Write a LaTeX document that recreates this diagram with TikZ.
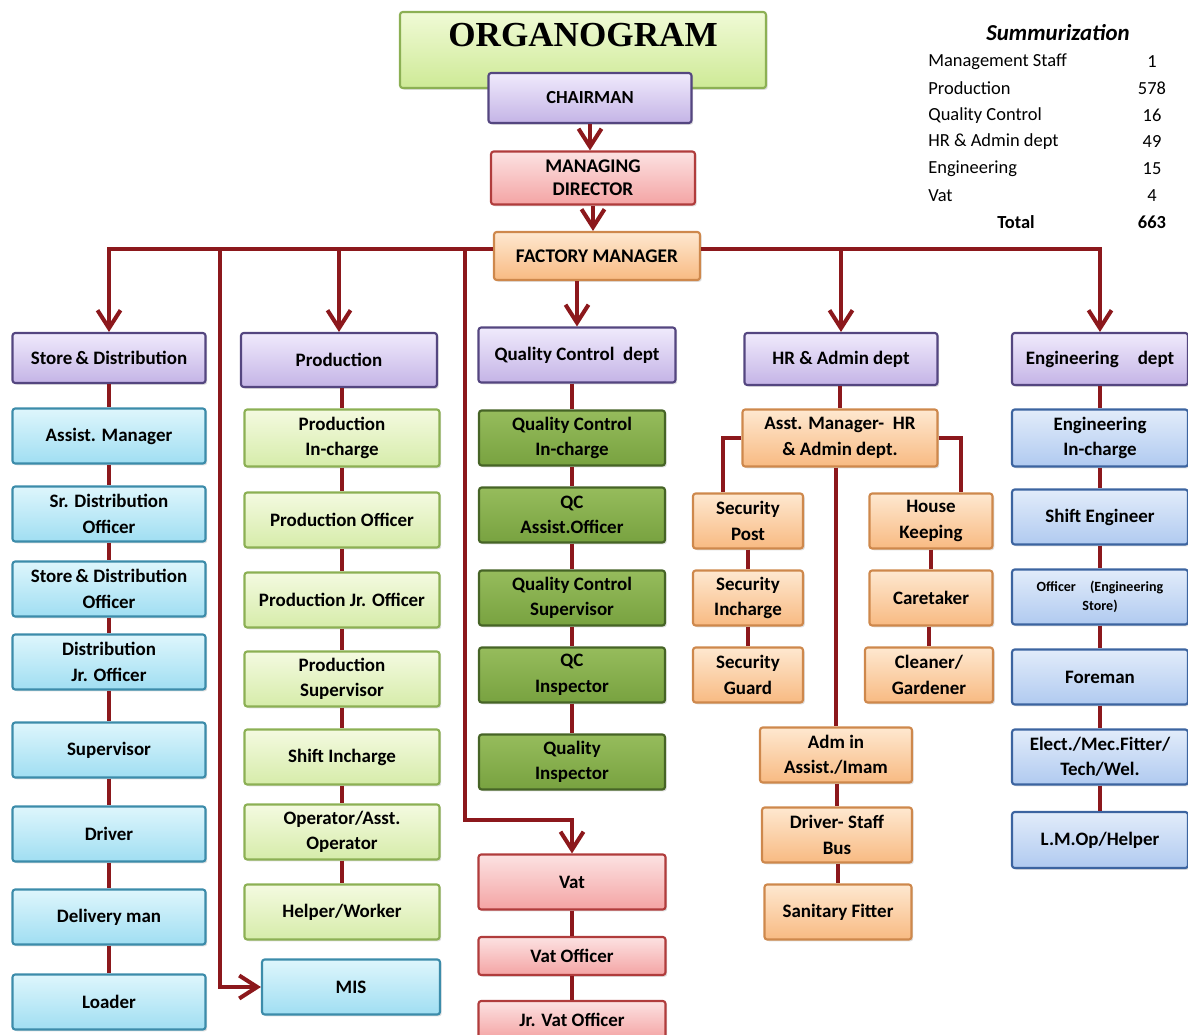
\documentclass[tikz,border=0pt]{standalone}
\usepackage{fontspec}
\setmainfont{Carlito}
\newfontfamily\titlefont{Liberation Serif}
\usetikzlibrary{arrows.meta, shadows}

\definecolor{linkred}{RGB}{140,24,28}
\definecolor{deptTop}{RGB}{240,234,252}
\definecolor{deptBot}{RGB}{196,180,230}
\definecolor{deptLine}{RGB}{84,70,128}
\definecolor{sdTop}{RGB}{222,246,252}
\definecolor{sdBot}{RGB}{160,222,242}
\definecolor{sdLine}{RGB}{60,140,170}
\definecolor{prTop}{RGB}{244,250,224}
\definecolor{prBot}{RGB}{214,236,170}
\definecolor{prLine}{RGB}{140,176,84}
\definecolor{qcTop}{RGB}{150,188,92}
\definecolor{qcBot}{RGB}{120,162,64}
\definecolor{qcLine}{RGB}{70,100,38}
\definecolor{vatTop}{RGB}{252,226,226}
\definecolor{vatBot}{RGB}{244,164,164}
\definecolor{vatLine}{RGB}{176,60,60}
\definecolor{hrTop}{RGB}{254,232,208}
\definecolor{hrBot}{RGB}{248,186,130}
\definecolor{hrLine}{RGB}{206,136,76}
\definecolor{engTop}{RGB}{226,236,250}
\definecolor{engBot}{RGB}{176,202,240}
\definecolor{engLine}{RGB}{60,100,160}
\definecolor{titleTop}{RGB}{240,250,214}
\definecolor{titleBot}{RGB}{206,234,150}

\tikzset{
  box/.style={draw, line width=1.2pt, rounded corners=1.5pt, align=center, inner sep=1pt,
    font=\fontsize{10.8}{14.5}\selectfont\bfseries, minimum height=1.1cm,
    drop shadow={opacity=.25, shadow xshift=1pt, shadow yshift=-1pt}},
  deptbox/.style={box, draw=deptLine, top color=deptTop, bottom color=deptBot},
  sdbox/.style={box, draw=sdLine, top color=sdTop, bottom color=sdBot, minimum width=3.86cm},
  prbox/.style={box, draw=prLine, top color=prTop, bottom color=prBot, minimum width=3.9cm},
  qcbox/.style={box, draw=qcLine, top color=qcTop, bottom color=qcBot, minimum width=3.72cm},
  vatbox/.style={box, draw=vatLine, top color=vatTop, bottom color=vatBot, minimum width=3.74cm},
  hrbox/.style={box, draw=hrLine, top color=hrTop, bottom color=hrBot},
  engbox/.style={box, draw=engLine, top color=engTop, bottom color=engBot, minimum width=3.52cm},
  link/.style={draw=linkred, line width=2.3pt},
  drop/.style={link, -{Straight Barb[length=3.6mm, width=4.6mm]}},
  sumtext/.style={font=\fontsize{10.5}{12}\selectfont, inner sep=0pt},
}

\begin{document}
\begin{tikzpicture}[x=0.02cm, y=-0.02cm]
\useasboundingbox (0,0) rectangle (1188,1035);

% top of the chart
\node[box, draw=prLine, top color=titleTop, bottom color=titleBot, minimum width=7.32cm, minimum height=1.52cm,
  text height=0.46cm, text depth=0.6cm,
  font=\titlefont\fontsize{20}{22}\selectfont\bfseries] (title) at (583,50) {ORGANOGRAM};
\node[deptbox, minimum width=4.06cm, minimum height=1cm, font=\fontsize{10.5}{12}\selectfont\bfseries] (chair) at (590,98) {CHAIRMAN};
\node[vatbox, minimum width=4.08cm, minimum height=1.06cm, font=\fontsize{11}{13}\selectfont\bfseries] (md) at (593,178) {MANAGING\\DIRECTOR};
\node[hrbox, minimum width=4.12cm, minimum height=0.96cm, font=\fontsize{11}{12}\selectfont\bfseries] (fm) at (597,256) {FACTORY MANAGER};

% departments
\node[deptbox, minimum width=3.86cm, minimum height=1cm] (dsd) at (109,358) {Store\,\& Distribution};
\node[deptbox, minimum width=3.92cm, minimum height=1.08cm] (dpr) at (339,360) {Production};
\node[deptbox, minimum width=3.94cm] (dqc) at (577,355) {Quality Control\ \ dept};
\node[deptbox, minimum width=3.86cm, minimum height=1.04cm] (dhr) at (841,359) {HR \& Admin dept};
\node[deptbox, minimum width=3.52cm, minimum height=1.04cm] (deng) at (1100,359) {Engineering\quad dept};

% store & distribution
\node[sdbox] (sd1) at (109,436) {Assist. Manager};
\node[sdbox] (sd2) at (109,514) {Sr. Distribution\\Officer};
\node[sdbox] (sd3) at (109,589) {Store\,\& Distribution\\Officer};
\node[sdbox] (sd4) at (109,662) {Distribution\\Jr. Officer};
\node[sdbox] (sd5) at (109,750) {Supervisor};
\node[sdbox] (sd6) at (109,834) {Driver};
\node[sdbox] (sd7) at (109,917) {Delivery man};
\node[sdbox] (sd8) at (109,1002) {Loader};

% production
\node[prbox, minimum height=1.14cm] (pr1) at (342,438) {Production\\In-charge};
\node[prbox] (pr2) at (342,520) {Production Officer};
\node[prbox] (pr3) at (342,600) {Production Jr. Officer};
\node[prbox] (pr4) at (342,679) {Production\\Supervisor};
\node[prbox] (pr5) at (342,757) {Shift Incharge};
\node[prbox] (pr6) at (342,832) {Operator/Asst.\\Operator};
\node[prbox] (pr7) at (342,912) {Helper/Worker};
\node[sdbox, minimum width=3.56cm] (mis) at (351,987) {MIS};

% quality control and vat
\node[qcbox] (qc1) at (572,438) {Quality\ Control\\In-charge};
\node[qcbox] (qc2) at (572,515) {QC\\Assist.Officer};
\node[qcbox] (qc3) at (572,598) {Quality\ Control\\Supervisor};
\node[qcbox] (qc4) at (572,675) {QC\\Inspector};
\node[qcbox] (qc5) at (572,762) {Quality\\Inspector};
\node[vatbox] (vat1) at (572,882) {Vat};
\node[vatbox, minimum height=0.76cm] (vat2) at (572,956) {Vat Officer};
\node[vatbox, minimum height=0.76cm] (vat3) at (572,1020) {Jr. Vat Officer};

% hr & admin
\node[hrbox, minimum width=3.9cm, minimum height=1.14cm] (hr1) at (840,438) {Asst. Manager-\ \ HR\\\& Admin dept.};
\node[hrbox, minimum width=2.2cm] (sec1) at (748,521) {Security\\Post};
\node[hrbox, minimum width=2.2cm] (sec2) at (748,598) {Security\\Incharge};
\node[hrbox, minimum width=2.2cm] (sec3) at (748,675) {Security\\Guard};
\node[hrbox, minimum width=2.46cm] (hk1) at (931,521) {House\\Keeping};
\node[hrbox, minimum width=2.46cm] (hk2) at (931,598) {Caretaker};
\node[hrbox, minimum width=2.56cm] (hk3) at (929,675) {Cleaner/\\Gardener};
\node[hrbox, minimum width=3.04cm] (adm1) at (836,755) {Adm in\\Assist./Imam};
\node[hrbox, minimum width=3cm] (adm2) at (837,835) {Driver- Staff\\Bus};
\node[hrbox, minimum width=2.94cm] (adm3) at (838,912) {Sanitary Fitter};

% engineering
\node[engbox, minimum height=1.14cm] (eng1) at (1100,438) {Engineering\\In-charge};
\node[engbox] (eng2) at (1100,517) {Shift Engineer};
\node[engbox, font=\fontsize{8}{11}\selectfont\bfseries] (eng3) at (1100,597) {Officer\quad(Engineering\\Store)};
\node[engbox] (eng4) at (1100,677) {Foreman};
\node[engbox] (eng5) at (1100,757) {Elect./Mec.Fitter/\\Tech/Wel.};
\node[engbox, minimum height=1.12cm] (eng6) at (1100,840) {L.M.Op/Helper};

% summary table
\node[font=\fontsize{13}{15}\selectfont\bfseries\itshape] (sumtitle) at (1058,33) {Summurization};
\foreach \lab/\num [count=\i] in {Management Staff/1, Production/578, Quality Control/16,
    HR \& Admin dept/49, Engineering/15, Vat/4} {
  \node[sumtext, anchor=west] (sl\i) at (928,35+26.7*\i) {\lab};
  \node[sumtext] (sn\i) at (1152,35+26.7*\i) {\num};
}
\node[sumtext, font=\fontsize{10.5}{12}\selectfont\bfseries] (sltot) at (1016,222) {Total};
\node[sumtext, font=\fontsize{10.5}{12}\selectfont\bfseries] (sntot) at (1152,222) {663};

% connectors from the top
\draw[drop] (chair.south) -- (chair.south |- md.north);
\draw[drop] (md.south) -- (md.south |- fm.north);
\coordinate (busL) at ([yshift=4pt]fm.west);
\coordinate (busR) at ([yshift=4pt]fm.east);
\coordinate (mistrunk) at (220,600);
\coordinate (vattrunk) at (465,820);
\draw[drop] (busL) -| (dsd.north);
\draw[drop] (busL) -| (dpr.north);
\draw[drop] (busL) -| (mistrunk) |- (mis.west);
\draw[drop] (busL) -| (vattrunk) -| (vat1.north);
\draw[drop] (fm.south -| dqc.north) -- (dqc.north);
\draw[drop] (busR) -| (dhr.north);
\draw[drop] (busR) -| (deng.north);

% column chains
\foreach \a/\b in {dsd/sd1, sd1/sd2, sd2/sd3, sd3/sd4, sd4/sd5, sd5/sd6, sd6/sd7, sd7/sd8,
    dpr/pr1, pr1/pr2, pr2/pr3, pr3/pr4, pr4/pr5, pr5/pr6, pr6/pr7,
    dqc/qc1, qc1/qc2, qc2/qc3, qc3/qc4, qc4/qc5, vat1/vat2, vat2/vat3,
    dhr/hr1, sec1/sec2, sec2/sec3, hk1/hk2, hk2/hk3, hr1/adm1, adm1/adm2, adm2/adm3,
    deng/eng1, eng1/eng2, eng2/eng3, eng3/eng4, eng4/eng5, eng5/eng6}
  \draw[link] (\b.north |- \a.south) -- (\b.north);
\draw[link] (hr1.west) -| ([xshift=-0.5cm]sec1.north);
\draw[link] (hr1.east) -| ([xshift=0.6cm]hk1.north);
\end{tikzpicture}
\end{document}
